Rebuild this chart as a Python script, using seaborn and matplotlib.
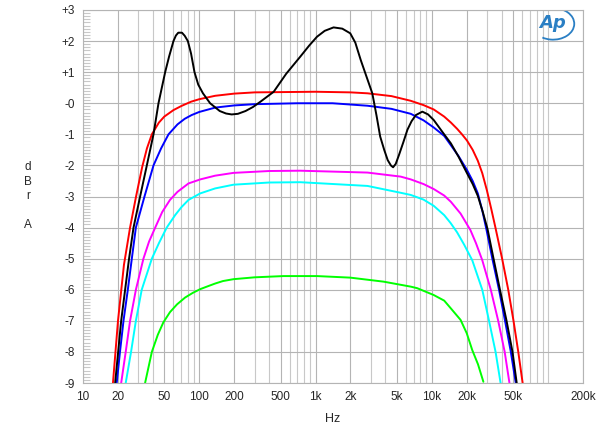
import numpy as np
import pandas as pd
import matplotlib
matplotlib.use('Agg')
from matplotlib import pyplot as plt
from matplotlib.patches import Arc
from matplotlib.ticker import FixedLocator, NullFormatter
import seaborn as sns

sns.set_style('white')
plt.rcParams['font.family'] = ['Liberation Sans', 'DejaVu Sans']

# frequency response curves (Hz, dBr)
red_f = [18.1, 20.0, 22.5, 25.4, 28.6, 32.3, 35.5, 39.1, 45, 50, 60, 70, 85, 100, 137, 200, 300,
         1000, 2000, 2800, 4500, 6580, 8500, 10400, 12800, 14600, 16500, 18200, 20100, 22500,
         24900, 27200, 29800, 32500, 35300, 40300, 45500, 50500, 55500, 60500]
red_db = [-9, -7, -5.2, -4, -3, -2.05, -1.45, -1, -0.62, -0.43, -0.22, -0.09, 0.05, 0.13, 0.24, 0.31, 0.35,
          0.37, 0.35, 0.32, 0.23, 0.08, -0.06, -0.2, -0.43, -0.62, -0.82, -1.0, -1.2, -1.5,
          -1.85, -2.25, -2.8, -3.4, -4, -5, -6, -7, -8, -9]

blue_f = [19.5, 20.8, 22.3, 24.3, 26.3, 28.5, 33.8, 40.4, 47, 54.4, 65, 75, 86, 100, 137, 200, 300,
          700, 1400, 2800, 4500, 6600, 8500, 10400, 12800, 14600, 17000, 20100, 22500, 24900,
          27200, 29500, 33200, 37900, 42700, 47900, 52800]
blue_db = [-9, -8, -7, -6, -5, -4, -3, -2, -1.45, -1, -0.68, -0.5, -0.38, -0.28, -0.14, -0.07, -0.03,
           0.0, 0.0, -0.08, -0.18, -0.34, -0.55, -0.78, -1.05, -1.35, -1.7, -2.15, -2.5, -2.9,
           -3.45, -4.05, -5, -6, -7, -8, -9]

black_f = [18.9, 21.3, 24.9, 27.2, 31, 35.4, 40.4, 44.6, 50.9, 55, 60, 63, 66, 71, 75, 79.8, 85,
           91, 98, 107.6, 124, 150, 170, 190, 215, 250, 290, 336, 437, 560, 740, 880, 1030, 1200,
           1430, 1700, 1990, 2200, 2450, 2750, 3080, 3350, 3600, 3900, 4180, 4450, 4650, 4900,
           5230, 5700, 6180, 6700, 7300, 8300, 9300, 10400, 12500, 14600, 17000, 20100, 22500,
           24900, 27500, 30200, 34000, 38600, 44000, 49500, 53800]
black_db = [-9, -7, -5, -4, -3, -2, -1, 0, 1, 1.5, 2, 2.18, 2.27, 2.27, 2.17, 2, 1.6,
            1, 0.6, 0.32, 0.0, -0.25, -0.33, -0.36, -0.34, -0.25, -0.12, 0.05, 0.37, 0.95, 1.5, 1.85, 2.14, 2.33,
            2.44, 2.4, 2.25, 1.95, 1.39, 0.85, 0.32, -0.4, -1.07, -1.5, -1.83, -2.0, -2.06, -1.95,
            -1.66, -1.25, -0.85, -0.58, -0.38, -0.27, -0.36, -0.54, -0.95, -1.29, -1.72, -2.25, -2.6,
            -2.98, -3.5, -4.05, -5, -6, -7, -8, -9]

magenta_f = [21.3, 23.3, 25.4, 28.5, 33.1, 37, 41.8, 48, 56, 65, 80.8, 102, 137, 197, 400, 740,
             2800, 5400, 6600, 8500, 10400, 12800, 14600, 17700, 21500, 24000, 27200, 32200, 37300,
             42400, 46600]
magenta_db = [-9, -8, -7, -6, -5, -4.45, -4, -3.5, -3.11, -2.85, -2.58, -2.45, -2.33, -2.24, -2.18, -2.17,
              -2.23, -2.36, -2.45, -2.6, -2.76, -2.97, -3.17, -3.55, -4.08, -4.5, -5.05, -6, -7,
              -8, -9]

cyan_f = [23.3, 25.9, 28.5, 32, 39.1, 45, 52.5, 62, 70, 80.8, 102, 137, 197, 400, 740, 2800, 5400,
          6600, 8500, 10400, 12800, 14500, 16500, 19000, 22300, 27200, 31100, 35400, 39100]
cyan_db = [-9, -8, -7, -6, -5, -4.5, -4, -3.6, -3.35, -3.11, -2.9, -2.74, -2.62, -2.55, -2.54, -2.66,
           -2.88, -2.95, -3.1, -3.3, -3.6, -3.85, -4.15, -4.55, -5.05, -6, -7, -8, -9]

green_f = [34.2, 39.1, 44, 49.1, 56, 64.4, 75.6, 88, 102, 120, 137, 160, 197, 300, 530, 1030,
           1990, 3860, 6600, 7500, 10400, 12800, 14600, 17700, 20000, 22300, 25000, 27800]
green_db = [-9, -8, -7.45, -7.05, -6.72, -6.47, -6.25, -6.1, -5.98, -5.88, -5.8, -5.72, -5.66, -5.6, -5.56,
            -5.56, -5.61, -5.74, -5.9, -5.95, -6.17, -6.35, -6.6, -6.97, -7.4, -7.94, -8.4, -8.96]

curves = [('green', green_f, green_db, '#00ff00'),
          ('cyan', cyan_f, cyan_db, '#00ffff'),
          ('magenta', magenta_f, magenta_db, '#ff00ff'),
          ('red', red_f, red_db, '#ff0000'),
          ('blue', blue_f, blue_db, '#0000ff'),
          ('black', black_f, black_db, '#000000')]

xtick_vals = [10, 20, 50, 100, 200, 500, 1000, 2000, 5000, 10000, 20000, 50000, 200000]
xtick_labels = ['10', '20', '50', '100', '200', '500', '1k', '2k', '5k', '10k', '20k', '50k', '200k']
ytick_vals = list(range(-9, 4))
ytick_labels = ['+%d' % v if v > 0 else ('-0' if v == 0 else '%d' % v) for v in ytick_vals]

fig = plt.figure(figsize=(6, 4.26), dpi=100)
ax = fig.add_axes([83 / 600, 1 - 383 / 426, 500 / 600, 373 / 426])

for name, f, db, col in curves:
    df = pd.DataFrame({'Hz': f, 'dBr': db})
    sns.lineplot(data=df, x='Hz', y='dBr', color=col, lw=1.4, ax=ax,
                 estimator=None, sort=False)

ax.set_xscale('log')
ax.set_xlim(10, 200000)
ax.set_ylim(-9, 3)

# grid at every 1..9 multiple
minor_x = [m * 10 ** d for d in range(1, 6) for m in range(1, 10)
           if 10 <= m * 10 ** d <= 200000 and m * 10 ** d not in xtick_vals]
ax.xaxis.set_major_locator(FixedLocator(xtick_vals))
ax.xaxis.set_minor_locator(FixedLocator(minor_x))
ax.xaxis.set_minor_formatter(NullFormatter())
ax.set_xticks(xtick_vals, xtick_labels)
ax.set_yticks(ytick_vals, ytick_labels)
ax.yaxis.set_minor_locator(FixedLocator(np.arange(-9, 3.01, 0.1)))

ax.grid(True, which='major', axis='both', color='#b4b4b4', lw=0.8)
ax.grid(True, which='minor', axis='x', color='#c8c8c8', lw=0.8)
ax.set_axisbelow(True)
ax.tick_params(axis='x', which='both', length=0, labelsize=8.5, pad=6)
ax.tick_params(axis='y', which='major', length=0, labelsize=8.5, pad=6)
ax.tick_params(axis='y', which='minor', left=True, length=5, direction='in',
               color='#c8c8c8', width=0.8)
for s in ax.spines.values():
    s.set_color('#b4b4b4')
    s.set_linewidth(0.8)

ax.set_xlabel('Hz', fontsize=9, labelpad=7)
ax.set_ylabel('')
fig.text(28 / 600, 1 - 196 / 426, 'd\nB\nr\n\nA', fontsize=8.5, ha='center', va='center',
         linespacing=1.25)

# Ap logo
ax.text(0.94, 0.965, 'Ap', transform=ax.transAxes, fontsize=13, color='#2a7fc4',
        fontstyle='italic', fontweight='bold', ha='center', va='center', family='DejaVu Sans')
ax.add_patch(Arc((0.94, 0.963), 0.085, 0.085, theta1=-120, theta2=70, transform=ax.transAxes,
                 color='#2a7fc4', lw=1.3))

fig.savefig('out.png', dpi=100)
